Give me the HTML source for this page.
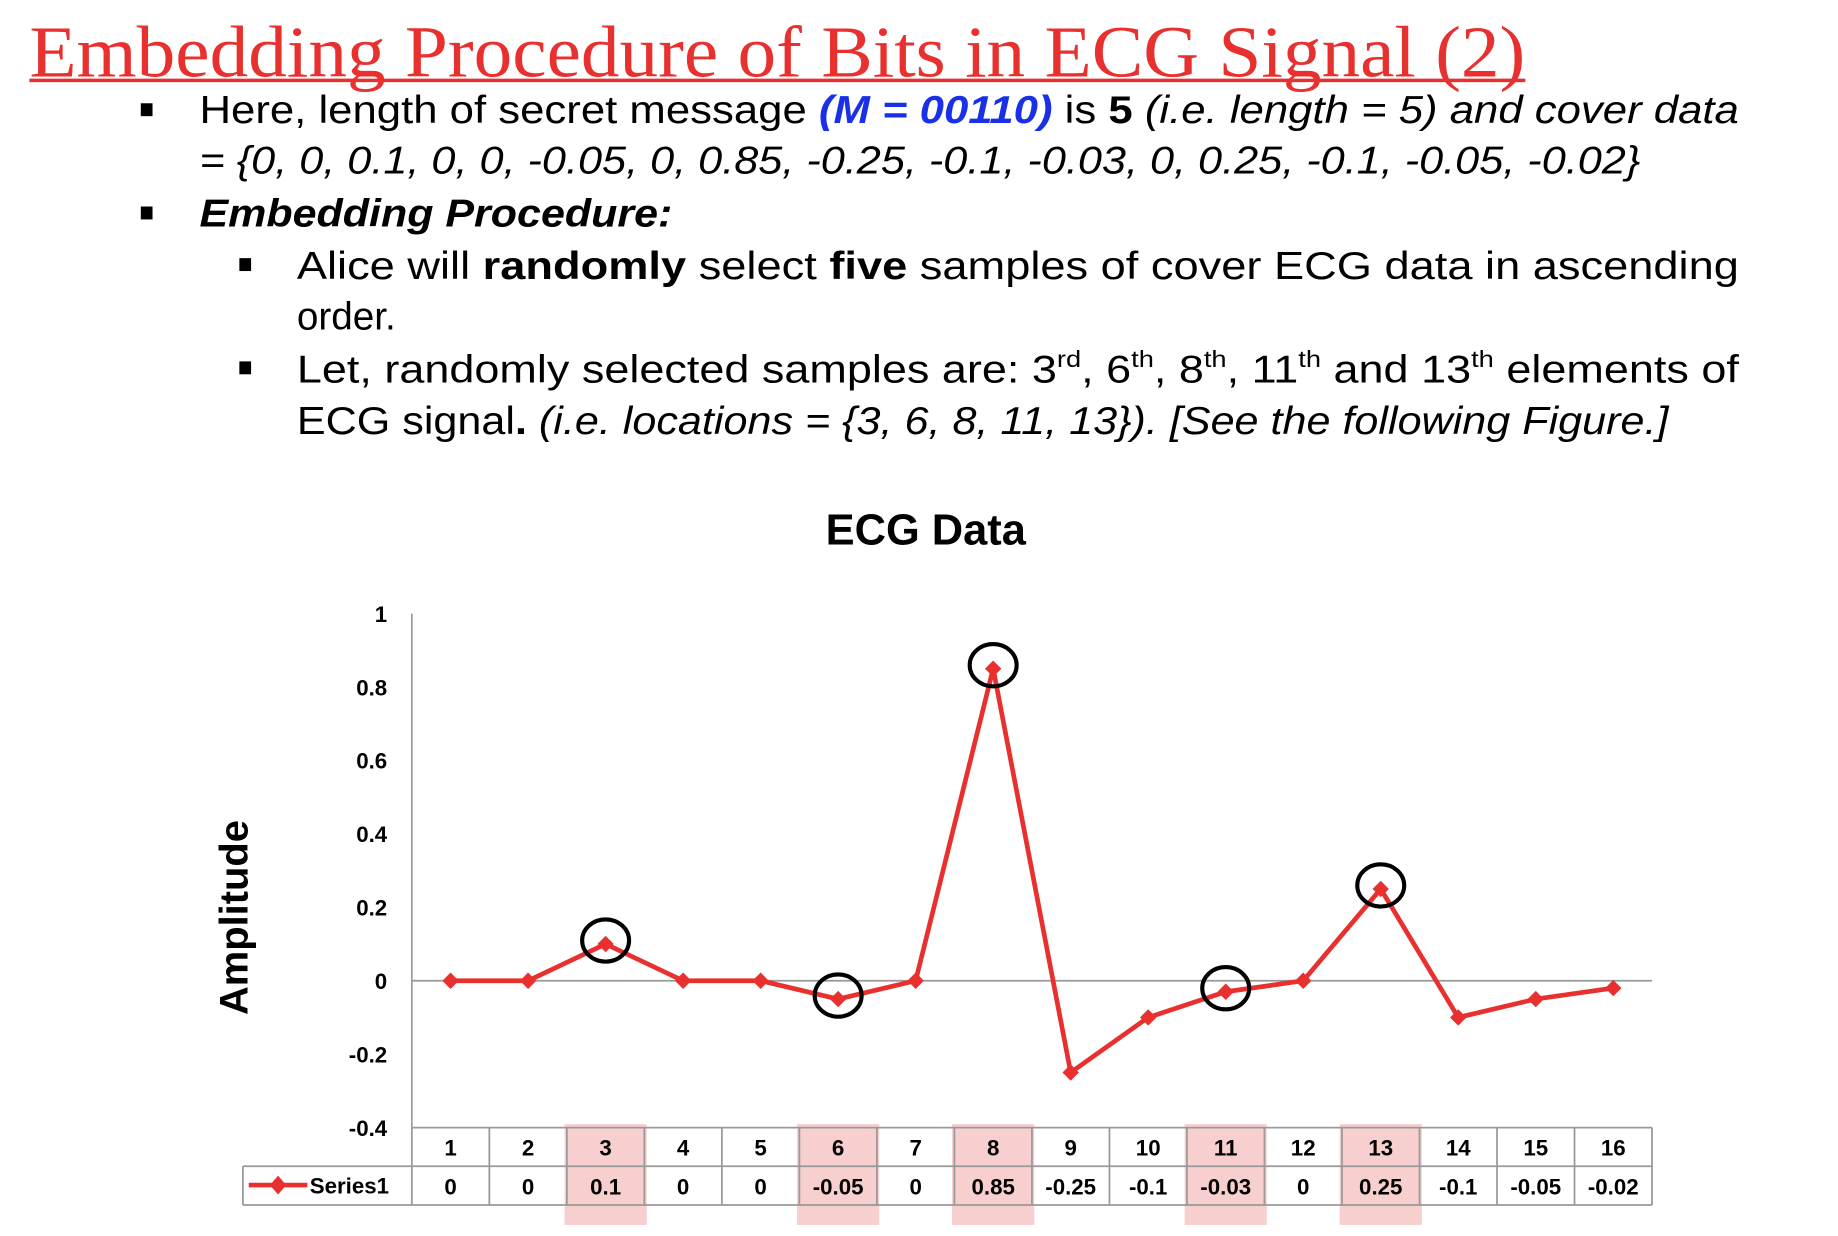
<!DOCTYPE html>
<html><head><meta charset="utf-8"><style>
html,body{margin:0;padding:0;background:#fff;}
svg{display:block;}
text{font-family:"Liberation Sans",Arial,sans-serif;}
</style></head><body>
<svg id="root" width="1838" height="1236" viewBox="0 0 1566.5 1053.4">
<rect width="1566.5" height="1053.4" fill="#fff"/>
<text x="25" y="65" style="font-family:'Liberation Serif',serif" font-size="62" fill="#e8312f" textLength="1275" lengthAdjust="spacingAndGlyphs">Embedding Procedure of Bits in ECG Signal (2)</text>
<rect x="25" y="67" width="1275" height="3" fill="#e8312f"/>

<g font-size="33" fill="#000">
<rect x="120" y="88" width="10" height="11"/>
<text x="170" y="105" textLength="1312" lengthAdjust="spacingAndGlyphs">Here, length of secret message <tspan fill="#1a2fe8" font-weight="bold" font-style="italic">(M = 00110)</tspan> is <tspan font-weight="bold">5</tspan> <tspan font-style="italic">(i.e. length = 5) and cover data</tspan></text>
<text x="170" y="148" font-style="italic" textLength="1228" lengthAdjust="spacingAndGlyphs">= {0, 0, 0.1, 0, 0, -0.05, 0, 0.85, -0.25, -0.1, -0.03, 0, 0.25, -0.1, -0.05, -0.02}</text>
<rect x="120" y="176" width="10" height="11"/>
<text x="170" y="193" font-weight="bold" font-style="italic" textLength="403" lengthAdjust="spacingAndGlyphs">Embedding Procedure:</text>
<rect x="204" y="220" width="10" height="11"/>
<text x="253" y="238" textLength="1229" lengthAdjust="spacingAndGlyphs">Alice will <tspan font-weight="bold">randomly</tspan> select <tspan font-weight="bold">five</tspan> samples of cover ECG data in ascending</text>
<text x="253" y="281">order.</text>
<rect x="204" y="308" width="10" height="11"/>
<text x="253" y="326" textLength="1229" lengthAdjust="spacingAndGlyphs">Let, randomly selected samples are: 3<tspan font-size="20" dy="-13">rd</tspan><tspan dy="13">, 6</tspan><tspan font-size="20" dy="-13">th</tspan><tspan dy="13">, 8</tspan><tspan font-size="20" dy="-13">th</tspan><tspan dy="13">, 11</tspan><tspan font-size="20" dy="-13">th</tspan><tspan dy="13"> and 13</tspan><tspan font-size="20" dy="-13">th</tspan><tspan dy="13"> elements of</tspan></text>
<text x="253" y="370" textLength="1169" lengthAdjust="spacingAndGlyphs">ECG signal<tspan font-weight="bold">.</tspan> <tspan font-style="italic">(i.e. locations = {3, 6, 8, 11, 13}). [See the following Figure.]</tspan></text>
</g>

<text x="789" y="464" text-anchor="middle" font-size="37" font-weight="bold">ECG Data</text>
<text transform="translate(211,782) rotate(-90)" text-anchor="middle" font-size="34" font-weight="bold">Amplitude</text>
<g id="chart"></g>
</svg>
<script>
const categories = [1,2,3,4,5,6,7,8,9,10,11,12,13,14,15,16];
const values = [0,0,0.1,0,0,-0.05,0,0.85,-0.25,-0.1,-0.03,0,0.25,-0.1,-0.05,-0.02];
const valueLabels = ["0","0","0.1","0","0","-0.05","0","0.85","-0.25","-0.1","-0.03","0","0.25","-0.1","-0.05","-0.02"];
const yTicks = [1,0.8,0.6,0.4,0.2,0,-0.2,-0.4];
const yTickLabels = ["1","0.8","0.6","0.4","0.2","0","-0.2","-0.4"];
const selected = [3,6,8,11,13];

const NS = "http://www.w3.org/2000/svg";
const g = document.getElementById('chart');
const X0 = 351, X1 = 1408, YTOP = 523, YBOT = 961, VMIN = -0.4, VMAX = 1;
const colW = (X1 - X0) / categories.length;
function xPos(i){ return X0 + colW * (i + 0.5); }
function yPos(v){ return YBOT - (v - VMIN) / (VMAX - VMIN) * (YBOT - YTOP); }
function mk(tag, attrs, parent){ const e = document.createElementNS(NS, tag); for (const k in attrs) e.setAttribute(k, attrs[k]); (parent||g).appendChild(e); return e; }

selected.forEach(c => {
  const i = categories.indexOf(c);
  const r = mk('rect', {x: X0 + colW*i - 2, y: 958, width: colW + 4, height: 86, fill: '#f5b5b5', 'fill-opacity': 0.65});
  
  
});

const ax = mk('line', {x1: X0, y1: YTOP, x2: X0, y2: YBOT, stroke: '#888', 'stroke-width': 1.2});


yTicks.forEach((t, k) => {
  const tx = mk('text', {x: 330, y: yPos(t) + 7, 'text-anchor': 'end', 'font-size': 19, 'font-weight': 'bold'});
  tx.textContent = yTickLabels[k];
  
  
});
const zl = mk('line', {x1: X0, y1: yPos(0), x2: X1, y2: yPos(0), stroke: '#999', 'stroke-width': 1.5});



const tg = mk('g', {stroke: '#999', 'stroke-width': 1.5, fill: 'none'});


mk('line', {x1: X0, y1: 961, x2: X1, y2: 961}, tg);
mk('line', {x1: 207, y1: 994, x2: X1, y2: 994}, tg);
mk('line', {x1: 207, y1: 1027, x2: X1, y2: 1027}, tg);
mk('line', {x1: 207, y1: 994, x2: 207, y2: 1027}, tg);
for (let i = 0; i <= categories.length; i++) mk('line', {x1: X0 + colW*i, y1: 961, x2: X0 + colW*i, y2: 1027}, tg);
categories.forEach((c, i) => {
  const t1 = mk('text', {x: xPos(i), y: 985, 'text-anchor': 'middle', 'font-size': 19, 'font-weight': 'bold'});
  t1.textContent = c;
  
  
  const t2 = mk('text', {x: xPos(i), y: 1018, 'text-anchor': 'middle', 'font-size': 19, 'font-weight': 'bold'});
  t2.textContent = valueLabels[i];
  
  
});
const lk = mk('g', {});


mk('line', {x1: 212, y1: 1010, x2: 262, y2: 1010, stroke: '#e8312f', 'stroke-width': 4}, lk);
mk('polygon', {points: '237,1002 244,1010 237,1018 230,1010', fill: '#e8312f'}, lk);
const lt = mk('text', {x: 264, y: 1017, 'font-size': 19, 'font-weight': 'bold'}, lk);
lt.textContent = 'Series1';

const pts = values.map((v, i) => xPos(i) + ',' + yPos(v)).join(' ');
const pl = mk('polyline', {points: pts, fill: 'none', stroke: '#e8312f', 'stroke-width': 4, 'stroke-linejoin': 'round'});


values.forEach((v, i) => {
  const x = xPos(i), y = yPos(v);
  const m = mk('polygon', {points: `${x},${y-7} ${x+7},${y} ${x},${y+7} ${x-7},${y}`, fill: '#e8312f'});
  
  
});
selected.forEach(c => {
  const i = categories.indexOf(c);
  const e = mk('ellipse', {cx: xPos(i), cy: yPos(values[i]) - 3, rx: 20, ry: 18, fill: 'none', stroke: '#000', 'stroke-width': 3.5});
  
  
});
</script>
</body></html>
